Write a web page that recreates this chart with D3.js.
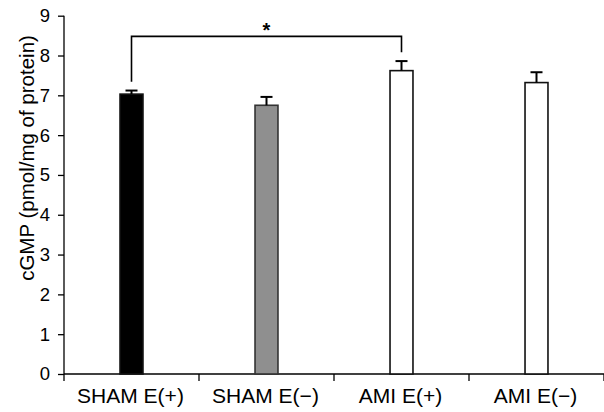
<!DOCTYPE html>
<html>
<head>
<meta charset="utf-8">
<script src="https://cdn.jsdelivr.net/npm/d3@7"></script>
<style>
  body { margin: 0; background: #fff; }
  text { font-family: "Liberation Sans", Arial, sans-serif; fill: #000; }
</style>
</head>
<body>
<div id="bar-chart"></div>
<script>
// data
var categories = ["SHAM E(+)", "SHAM E(\u2212)", "AMI E(+)", "AMI E(\u2212)"];
var means = [7.03, 6.75, 7.62, 7.32];
var sems = [0.09, 0.21, 0.24, 0.26];
var yTicks = [0, 1, 2, 3, 4, 5, 6, 7, 8, 9];
var barFills = ["#000", "#8f8f8f", "#fff", "#fff"];
// significance bracket: first vs third group
var sigPair = [0, 2];
var sigLevel = 8.48;
var sigEnds = [7.34, 8.08];

var width = 604, height = 412;

var svg = d3.select("#bar-chart").append("svg")
    .attr("width", width)
    .attr("height", height);

// scales
var x = d3.scaleBand()
    .domain(categories)
    .range([64, 604])
    .paddingInner(0.83)
    .paddingOuter(0.415);
var y = d3.scaleLinear()
    .domain([0, 9])
    .range([374, 15.7]);

// y axis (ticks + labels), line drawn by hand so it runs below zero
var yAxis = svg.append("g")
    .attr("transform", "translate(64,0)")
    .call(d3.axisLeft(y).tickValues(yTicks).tickSize(6).tickPadding(8).tickFormat(d3.format("d")));
yAxis.select(".domain").remove();
yAxis.selectAll(".tick line").attr("stroke", "#000").attr("stroke-width", 1.3);
yAxis.selectAll("text").style("font-size", "18.5px");

svg.append("line")
    .attr("x1", 64).attr("x2", 64)
    .attr("y1", y(9)).attr("y2", y(0) + 7)
    .attr("stroke", "#000").attr("stroke-width", 1.3);

// x axis line and ticks between groups
svg.append("line")
    .attr("x1", 64).attr("x2", 604)
    .attr("y1", y(0)).attr("y2", y(0))
    .attr("stroke", "#000").attr("stroke-width", 1.3);
svg.selectAll(".xtick")
    .data(d3.range(1, categories.length + 1))
    .enter().append("line")
    .attr("x1", function(i) { return x.range()[0] + i * x.step(); })
    .attr("x2", function(i) { return x.range()[0] + i * x.step(); })
    .attr("y1", y(0)).attr("y2", y(0) + 7)
    .attr("stroke", "#000").attr("stroke-width", 1.3);

// category labels
svg.selectAll(".xlabel")
    .data(categories)
    .enter().append("text")
    .attr("x", function(d) { return x(d) + x.bandwidth() / 2 - 1; })
    .attr("y", 403)
    .attr("text-anchor", "middle")
    .style("font-size", "21px")
    .text(function(d) { return d; });

// y axis title
svg.append("text")
    .attr("transform", "translate(34,158) rotate(-90)")
    .attr("text-anchor", "middle")
    .style("font-size", "20.5px")
    .text("cGMP (pmol/mg of protein)");

// bars
svg.selectAll(".bar")
    .data(means)
    .enter().append("rect")
    .attr("x", function(d, i) { return x(categories[i]); })
    .attr("y", function(d) { return y(d); })
    .attr("width", x.bandwidth())
    .attr("height", function(d) { return y(0) - y(d); })
    .attr("fill", function(d, i) { return barFills[i]; })
    .attr("stroke", function(d, i) { return i == 1 ? "#333" : "#111"; })
    .attr("stroke-width", 1.6);

// error bars (upper only)
var errG = svg.selectAll(".err")
    .data(means)
    .enter().append("g")
    .attr("stroke", "#000")
    .attr("stroke-width", 2);
errG.append("line")
    .attr("x1", function(d, i) { return x(categories[i]) + x.bandwidth() / 2; })
    .attr("x2", function(d, i) { return x(categories[i]) + x.bandwidth() / 2; })
    .attr("y1", function(d) { return y(d); })
    .attr("y2", function(d, i) { return y(d + sems[i]); });
errG.append("line")
    .attr("x1", function(d, i) { return x(categories[i]) + x.bandwidth() / 2 - 6; })
    .attr("x2", function(d, i) { return x(categories[i]) + x.bandwidth() / 2 + 6; })
    .attr("y1", function(d, i) { return y(d + sems[i]); })
    .attr("y2", function(d, i) { return y(d + sems[i]); });

// significance bracket
var bx0 = x(categories[sigPair[0]]) + x.bandwidth() / 2,
    bx1 = x(categories[sigPair[1]]) + x.bandwidth() / 2;
svg.append("path")
    .attr("d", "M" + bx0 + "," + y(sigEnds[0]) + "V" + y(sigLevel) + "H" + bx1 + "V" + y(sigEnds[1]))
    .attr("fill", "none")
    .attr("stroke", "#000")
    .attr("stroke-width", 1.6);
svg.append("text")
    .attr("x", (bx0 + bx1) / 2)
    .attr("y", 37)
    .attr("text-anchor", "middle")
    .style("font-size", "20px")
    .style("font-weight", "bold")
    .text("*");
</script>
</body>
</html>
